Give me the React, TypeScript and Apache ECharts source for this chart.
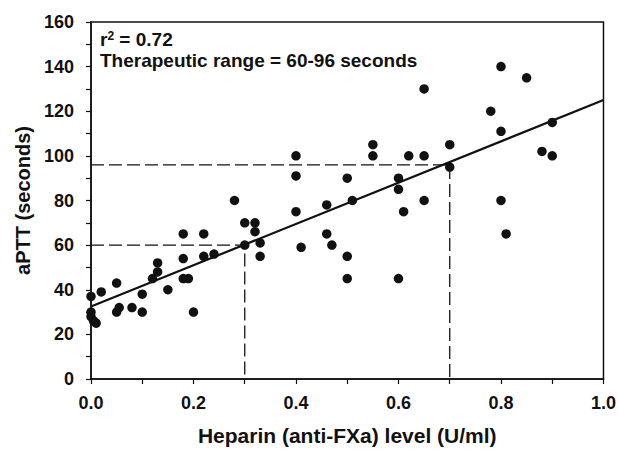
import React, { useEffect, useRef } from "react";
import * as echarts from "echarts";

const heparin = [
  0.0, 0.0, 0.0, 0.005, 0.01, 0.02, 0.05, 0.05, 0.055, 0.08, 0.1, 0.1,
  0.12, 0.13, 0.13, 0.15, 0.18, 0.18, 0.18, 0.19, 0.2, 0.22, 0.22, 0.24,
  0.28, 0.3, 0.3, 0.32, 0.32, 0.33, 0.33, 0.4, 0.4, 0.4, 0.41, 0.46,
  0.46, 0.47, 0.5, 0.5, 0.5, 0.51, 0.55, 0.55, 0.6, 0.6, 0.6, 0.61,
  0.62, 0.65, 0.65, 0.65, 0.7, 0.7, 0.78, 0.8, 0.8, 0.8, 0.81, 0.85,
  0.88, 0.9, 0.9,
];
const aptt = [
  37, 30, 28, 26, 25, 39, 43, 30, 32, 32, 38, 30,
  45, 52, 48, 40, 65, 54, 45, 45, 30, 65, 55, 56,
  80, 70, 60, 70, 66, 61, 55, 100, 91, 75, 59, 78,
  65, 60, 90, 55, 45, 80, 105, 100, 90, 85, 45, 75,
  100, 130, 100, 80, 105, 95, 120, 140, 111, 80, 65, 135,
  102, 115, 100,
];
const fitX = [0, 1.0];
const fitY = [32.5, 125];
const lowRange = 60;
const highRange = 96;
const lowLevel = 0.3;
const highLevel = 0.7;
const annotations = ["Therapeutic range = 60-96 seconds"];

const FONT = "'Liberation Sans', Arial, sans-serif";
const INK = "#111";

export default function App() {
  const ref = useRef<HTMLDivElement>(null);
  useEffect(() => {
    const chart = echarts.init(ref.current!, null, { renderer: "svg" });
    const dashStyle = { color: INK, width: 1.3, type: [13, 5] as any };
    chart.setOption({
      animation: false,
      backgroundColor: "#fff",
      textStyle: { fontFamily: FONT },
      grid: {
        left: 91,
        right: 15,
        top: 22,
        bottom: 71,
        show: true,
        borderColor: INK,
        borderWidth: 1.5,
      },
      xAxis: {
        type: "value",
        min: 0,
        max: 1.0,
        interval: 0.1,
        name: "Heparin (anti-FXa) level (U/ml)",
        nameLocation: "middle",
        nameGap: 46,
        nameTextStyle: { fontSize: 21, fontWeight: "bold", color: INK, fontFamily: FONT },
        axisLine: { lineStyle: { color: INK, width: 1.5 } },
        axisTick: { show: true, inside: false, length: 5, lineStyle: { color: INK, width: 1.2 } },
        splitLine: { show: false },
        axisLabel: {
          margin: 15,
          fontSize: 18,
          fontWeight: "bold",
          color: INK,
          fontFamily: FONT,
          formatter: (v: number) => {
            const k = Math.round(v * 10);
            return k % 2 === 0 ? v.toFixed(1) : "";
          },
        },
      },
      yAxis: {
        type: "value",
        min: 0,
        max: 160,
        interval: 10,
        name: "aPTT (seconds)",
        nameLocation: "middle",
        nameGap: 57,
        nameTextStyle: { fontSize: 20, fontWeight: "bold", color: INK, fontFamily: FONT },
        axisLine: { show: true, lineStyle: { color: INK, width: 1.5 } },
        axisTick: { show: true, inside: false, length: 5, lineStyle: { color: INK, width: 1.2 } },
        splitLine: { show: false },
        axisLabel: {
          margin: 17,
          fontSize: 18,
          fontWeight: "bold",
          color: INK,
          fontFamily: FONT,
          formatter: (v: number) => (Math.round(v) % 20 === 0 ? String(v) : ""),
        },
      },
      graphic: [
        {
          type: "text",
          left: 100,
          top: 30,
          style: {
            rich: {
              b: { fontSize: 19, fontWeight: "bold", fill: INK, fontFamily: FONT },
              s: { fontSize: 12, fontWeight: "bold", fill: INK, fontFamily: FONT, verticalAlign: "top", padding: [0, 0, 7, 0] },
            },
            text: "{b|r}{s|2}{b| = 0.72}",
          },
        },
        {
          type: "text",
          left: 100,
          top: 51,
          style: {
            text: annotations[0],
            fontSize: 19,
            fontWeight: "bold",
            fill: INK,
            fontFamily: FONT,
          },
        },
      ],
      series: [
        {
          type: "line",
          data: [[0, lowRange], [lowLevel, lowRange], [lowLevel, 0]],
          symbol: "none",
          lineStyle: dashStyle,
          silent: true,
          z: 1,
        },
        {
          type: "line",
          data: [[0, highRange], [highLevel, highRange], [highLevel, 0]],
          symbol: "none",
          lineStyle: dashStyle,
          silent: true,
          z: 1,
        },
        {
          type: "line",
          data: fitX.map((x, i) => [x, fitY[i]]),
          symbol: "none",
          lineStyle: { color: INK, width: 2.2 },
          silent: true,
          z: 2,
        },
        {
          type: "scatter",
          data: heparin.map((x, i) => [x, aptt[i]]),
          symbol: "circle",
          symbolSize: 9.5,
          itemStyle: { color: INK, opacity: 1 },
          z: 3,
        },
      ],
    });
    return () => chart.dispose();
  }, []);
  return (
    <div
      ref={ref}
      style={{ position: "fixed", left: 0, top: 0, width: 619, height: 451, background: "#fff" }}
    />
  );
}
